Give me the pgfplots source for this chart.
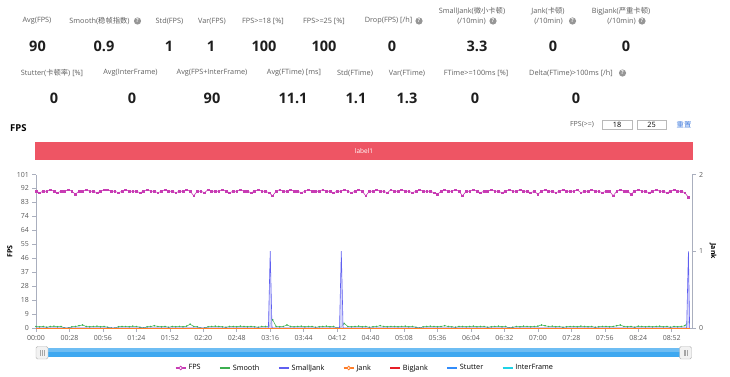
\documentclass[border=0pt]{standalone}
\usepackage{pgfplots}
\pgfplotsset{compat=1.18}
\usepackage{pgfplotstable}
\usepackage{fontspec}
\setmainfont{Open Sans}
\newfontfamily\cjk{Noto Sans CJK SC}
\definecolor{fpscol}{RGB}{200,60,180}
\definecolor{smcol}{RGB}{60,175,80}
\definecolor{sjcol}{RGB}{95,95,240}
\definecolor{jankcol}{RGB}{255,125,40}
\definecolor{bjcol}{RGB}{230,30,40}
\definecolor{stcol}{RGB}{50,140,250}
\definecolor{ifcol}{RGB}{30,210,230}
\definecolor{bandred}{RGB}{238,85,100}
\definecolor{labgray}{RGB}{95,95,95}
\definecolor{valblack}{RGB}{30,30,30}
\definecolor{qgray}{RGB}{150,150,150}
\definecolor{axgray}{RGB}{170,175,190}
\definecolor{tickgray}{RGB}{90,90,90}
\definecolor{slider}{RGB}{62,168,240}
\definecolor{linkblue}{RGB}{60,120,220}

\pgfplotstableread{
t fps sm
0 90 1
3 89 0.8
6 90 1
9 90 0.5
12 91 1
15 90 1.2
18 89 0.8
21 90 1
24 90 0
27 91 0
30 90 0.8
33 88 1
36 90 1.5
39 90 2
42 91 1
45 90 0.8
48 90 1
51 89 1.2
54 90 0.8
57 91 1
60 91 0.5
63 90 0
66 90 0
69 89 0.8
72 90 1
75 91 1
78 90 0.8
81 90 1.2
84 90 1
87 89 0.5
90 90 0
93 91 0.8
96 90 1
99 90 1.5
102 89 1
105 90 0.8
108 91 1
111 90 0.5
114 90 1
117 89 0.8
120 90 1
123 90 0.8
126 91 1.2
129 90 2.5
132 87 1
135 90 0.8
138 90 0
141 89 0
144 91 0.8
147 90 1
150 90 1.2
153 90 1
156 91 0.8
159 90 0.5
162 89 1
165 90 1
168 90 0.8
171 91 1.2
174 90 1
177 90 0.8
180 89 1
183 90 0.8
186 91 0.5
189 90 1
192 90 1
195 89 1.2
198 87 5.5
201 90 1
204 91 0.8
207 90 1
210 90 2
213 91 1
216 90 0.8
219 90 1
222 89 1.2
225 90 0.8
228 91 1
231 90 1
234 90 0.5
237 90 0.8
240 91 1
243 90 1.2
246 90 0.8
249 89 1
252 90 0
255 90 0.5
258 91 3
261 90 1
264 89 0.8
267 90 1
270 91 1.2
273 90 0.8
276 87 1
279 90 0.5
282 90 0.8
285 91 1
288 90 1.5
291 90 1
294 89 0.8
297 91 1
300 90 1
303 90 0.8
306 91 1
309 90 1.2
312 90 0.8
315 89 1
318 90 0.5
321 91 0
324 90 0.8
327 90 1
330 90 1.2
333 89 1
336 88 0.8
339 90 1
342 91 1.5
345 90 1
348 90 0.8
351 91 0.5
354 90 1
357 87 1
360 90 0.8
363 90 1
366 91 1.2
369 90 0.8
372 89 1
375 90 1
378 90 0.5
381 91 0.8
384 90 1
387 90 1.2
390 89 0.8
393 90 1
396 91 0
399 90 0.5
402 90 1
405 91 0.8
408 90 1.2
411 90 1
414 89 0.8
417 90 1
420 88 1.2
423 90 2
426 91 1.5
429 90 1
432 90 1.2
435 89 0.8
438 90 1
441 91 0.5
444 90 0.8
447 90 1
450 90 1
453 91 0.8
456 89 1.2
459 90 1
462 90 0.8
465 91 1
468 90 0.5
471 90 0.8
474 89 1
477 90 1
480 90 0.8
483 87 1
486 90 1.5
489 91 2
492 90 1
495 90 0.8
498 88 1
501 90 0.5
504 91 1.2
507 90 1
510 90 0.8
513 89 1
516 90 0.8
519 91 1
522 90 1.2
525 90 0.8
528 89 1
531 90 0.5
534 91 1
537 90 0.8
540 90 1
543 89 1.5
546 86 4
}\fpsdata

\newcommand{\qm}[2]{\fill[qgray] (#1,#2) circle (3.6);\node[text=white,font=\bfseries\fontsize{5.5}{6}\selectfont,inner sep=0] at (#1,#2) {?};}
\newcommand{\lab}[3]{\node[text=labgray,font=\fontsize{7.3}{8}\selectfont,inner sep=0] at (#1,#2) {#3};}
\newcommand{\val}[3]{\node[text=valblack,font=\bfseries\fontsize{14.5}{16}\selectfont,inner sep=0] at (#1,#2) {#3};}

\begin{document}
\begin{tikzpicture}[x=1pt,y=1pt]
\useasboundingbox (0,0) rectangle (730,376);
% ---- statistics header ----
\lab{37}{355}{Avg(FPS)}
\lab{99.5}{355}{Smooth({\cjk 稳帧指数})}\qm{137.5}{355}
\lab{169.5}{355}{Std(FPS)}
\lab{212}{355}{Var(FPS)}
\lab{263}{355}{FPS>=18 [\%]}
\lab{324}{355}{FPS>=25 [\%]}
\lab{388.5}{355}{Drop(FPS) [/h]}\qm{419}{355}
\lab{472}{365}{SmallJank({\cjk 微小卡顿})}
\lab{471.5}{355}{(/10min)}\qm{493}{355}
\lab{548}{365}{Jank({\cjk 卡顿})}
\lab{548.5}{355}{(/10min)}\qm{572.5}{355}
\lab{621}{365}{BigJank({\cjk 严重卡顿})}
\lab{621.5}{355}{(/10min)}\qm{642}{355}
\val{37.5}{330}{90}
\val{104}{330}{0.9}
\val{169}{330}{1}
\val{211}{330}{1}
\val{264}{330}{100}
\val{324}{330}{100}
\val{392}{330}{0}
\val{477}{330}{3.3}
\val{553}{330}{0}
\val{626}{330}{0}
\lab{52}{303}{Stutter({\cjk 卡顿率}) [\%]}
\lab{130.5}{303}{Avg(InterFrame)}
\lab{212}{303}{Avg(FPS+InterFrame)}
\lab{294}{303}{Avg(FTime) [ms]}
\lab{355}{303}{Std(FTime)}
\lab{407}{303}{Var(FTime)}
\lab{476}{303}{FTime>=100ms [\%]}
\lab{571}{303}{Delta(FTime)>100ms [/h]}\qm{622.5}{303}
\val{54}{278}{0}
\val{132}{278}{0}
\val{212}{278}{90}
\val{293}{278}{11.1}
\val{356}{278}{1.1}
\val{407}{278}{1.3}
\val{475}{278}{0}
\val{576}{278}{0}
% ---- chart title and controls ----
\node[anchor=west,font=\bfseries\fontsize{9.5}{11}\selectfont,inner sep=0] at (10,248) {FPS};
\node[text=labgray,font=\fontsize{7}{8}\selectfont,inner sep=0] at (582,251.5) {FPS(>=)};
\draw[gray!55,line width=0.5pt] (602,247) rectangle (632,256);
\draw[gray!55,line width=0.5pt] (637,247) rectangle (666,256);
\node[font=\fontsize{7.3}{8}\selectfont,inner sep=0] at (617,251.5) {18};
\node[font=\fontsize{7.3}{8}\selectfont,inner sep=0] at (651.5,251.5) {25};
\node[text=linkblue,font=\cjk\fontsize{7.3}{8}\selectfont,inner sep=0] at (684,251.5) {重置};
\fill[bandred] (35,216) rectangle (693,233.7);
\node[text=white,font=\fontsize{6.5}{7}\selectfont,inner sep=0] at (364,225) {label1};
% ---- slider ----
\fill[slider] (40,19.5) rectangle (688,28.3);
\fill[white,opacity=0.25] (40,24.5) rectangle (688,28.3);
\draw[gray!60,fill=gray!10,rounded corners=1.5] (36,17) rectangle (48,29.5);
\draw[gray!60,fill=gray!10,rounded corners=1.5] (679.5,17) rectangle (691.5,29.5);
\foreach \xx in {40.3,42,43.7,683.8,685.5,687.2} {\draw[gray!70,line width=0.4pt] (\xx,20.5) -- (\xx,26);}
% ---- main axis ----
\begin{axis}[
  at={(36pt,48pt)}, anchor=south west, scale only axis,
  width=656pt, height=153.5pt,
  xmin=0, xmax=549, ymin=0, ymax=101,
  axis x line*=bottom, axis y line*=left,
  axis line style={axgray, line width=0.6pt},
  tick align=outside, major tick length=3.5pt,
  tick style={axgray, line width=0.5pt},
  xtick={0,28,...,532},
  xticklabels={00:00,00:28,00:56,01:24,01:52,02:20,02:48,03:16,03:44,04:12,04:40,05:08,05:36,06:04,06:32,07:00,07:28,07:56,08:24,08:52},
  ytick={0,9.1818,18.3636,27.5455,36.7273,45.9091,55.0909,64.2727,73.4545,82.6364,91.8182,101},
  yticklabels={0,9,18,28,37,46,55,64,74,83,92,101},
  tick label style={font=\fontsize{7}{8}\selectfont, text=tickgray},
  /pgf/number format/assume math mode=true,
  every axis y label/.style={at={(axis description cs:-0.04,0.5)}, rotate=90, anchor=center, font=\bfseries\fontsize{7}{8}\selectfont},
  ylabel={FPS},
]
\addplot[stcol, line width=0.6pt] coordinates {(0,0) (547,0)};
\addplot[ifcol, line width=0.6pt] coordinates {(0,0) (547,0)};
\addplot[smcol, line width=0.5pt, mark=*, mark size=0.5pt] table[x=t, y=sm] {\fpsdata};
\addplot[fpscol, line width=0.6pt, mark=square*, mark size=0.9pt] table[x=t, y=fps] {\fpsdata};
\end{axis}
% ---- Jank axis ----
\begin{axis}[
  at={(36pt,48pt)}, anchor=south west, scale only axis,
  width=656pt, height=153.5pt,
  xmin=0, xmax=549, ymin=0, ymax=2,
  axis x line=none, axis y line*=right,
  axis line style={axgray, line width=0.6pt},
  tick align=outside, major tick length=3.5pt,
  tick style={axgray, line width=0.5pt},
  ytick={0,1,2},
  tick label style={font=\fontsize{7}{8}\selectfont, text=tickgray},
  /pgf/number format/assume math mode=true,
  every axis y label/.style={at={(axis description cs:1.032,0.5)}, rotate=-90, anchor=center, font=\bfseries\fontsize{7}{8}\selectfont},
  ylabel={Jank},
  legend style={at={(axis description cs:0.5015,-0.2606)}, anchor=center, draw=none, fill=none,
    font=\fontsize{7.3}{8}\selectfont, /tikz/every even column/.append style={column sep=16.5pt}},
  legend columns=-1,
  legend image code/.code={\draw[#1, line width=1.6pt] (0pt,0pt) -- (10pt,0pt);},
]
\addlegendimage{fpscol, legend image code/.code={\draw[fpscol, line width=1.6pt] (0pt,0pt) -- (10pt,0pt); \draw[fpscol, fill=white, line width=0.8pt] (5pt,0pt) circle (1.8pt);}}
\addlegendentry{FPS}
\addlegendimage{smcol}
\addlegendentry{Smooth}
\addplot[draw=none, fill=sjcol!30, fill opacity=0.8, forget plot] coordinates {(0,0) (194.5,0) (196,1) (197.5,0) (254,0) (255.5,1) (257,0) (544.5,0) (546,1) (547,0)} \closedcycle;
\addplot[bjcol, line width=0.5pt, forget plot] coordinates {(0,0) (547,0)};
\addplot[sjcol, line width=0.6pt] coordinates {(0,0) (194.5,0) (196,1) (197.5,0) (254,0) (255.5,1) (257,0) (544.5,0) (546,1) (547,0)};
\addlegendentry{SmallJank}
\addplot[jankcol, line width=0.6pt, legend image code/.code={\draw[jankcol, line width=1.6pt] (0pt,0pt) -- (10pt,0pt); \draw[jankcol, fill=white, line width=0.8pt] (5pt,0pt) circle (1.8pt);}] coordinates {(0,0) (547,0)};
\addlegendentry{Jank}
\addlegendimage{bjcol}
\addlegendentry{BigJank}
\addlegendimage{stcol}
\addlegendentry{Stutter}
\addlegendimage{ifcol}
\addlegendentry{InterFrame}
\end{axis}
\end{tikzpicture}
\end{document}
